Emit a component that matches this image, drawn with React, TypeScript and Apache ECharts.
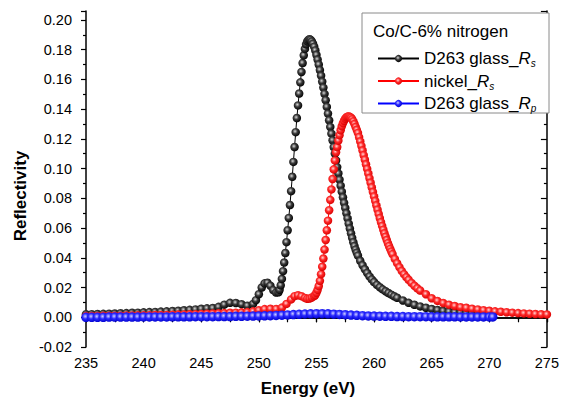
import React, { useEffect, useRef } from "react";
import * as echarts from "echarts";

// ---------- data ----------
const xTicks = [235, 240, 245, 250, 255, 260, 265, 270, 275];
const yTicks = [-0.02, 0.0, 0.02, 0.04, 0.06, 0.08, 0.1, 0.12, 0.14, 0.16, 0.18, 0.2];

const legendTitle = "Co/C-6% nitrogen";
const xTitle = "Energy (eV)";
const yTitle = "Reflectivity";
const seriesNames = ["D263 glass_Rs", "nickel_Rs", "D263 glass_Rp"];

// D263 glass, s-polarisation (black)
const blackE = [
  235, 235.5, 236, 236.5, 237, 237.5, 238, 238.5, 239, 239.5, 240, 240.5, 241, 241.5, 242, 242.5, 243, 243.5, 244, 244.5,
  245, 245.5, 246, 246.5, 247, 247.5, 248, 248.5, 249, 249.5, 249.75, 250, 250.25, 250.5, 250.75, 251, 251.25, 251.5,
  251.7, 251.8, 251.9, 252.0, 252.1, 252.2, 252.3, 252.4, 252.5, 252.6, 252.7, 252.8, 252.9, 253.0, 253.1, 253.2, 253.3,
  253.4, 253.5, 253.6, 253.7, 253.8, 253.9, 254.0, 254.1, 254.2, 254.3, 254.4, 254.5, 254.6, 254.7, 254.8, 254.9, 255.0,
  255.1, 255.2, 255.3, 255.4, 255.5, 255.6, 255.7, 255.8, 255.9, 256.0, 256.1, 256.2, 256.3, 256.4, 256.5, 256.6, 256.7,
  256.8, 256.9, 257.0, 257.1, 257.2, 257.3, 257.4, 257.5, 257.6, 257.7, 257.8, 257.9, 258.0, 258.1, 258.2, 258.3, 258.4,
  258.5, 258.6, 258.8, 259.0, 259.2, 259.4, 259.6, 259.8, 260.0, 260.25, 260.5, 260.75, 261.0, 261.25, 261.5, 261.75,
  262.0, 262.5, 263.0, 263.5, 264.0, 264.5, 265.0, 265.5, 266.0, 266.5, 267.0, 267.5, 268.0, 268.5, 269.0, 269.5, 270.0,
];
const blackR = [
  0.002, 0.0021, 0.0022, 0.0023, 0.0024, 0.0025, 0.0027, 0.0028, 0.003, 0.0031, 0.0033, 0.0035, 0.0036, 0.0038, 0.004,
  0.0042, 0.0044, 0.0047, 0.005, 0.0053, 0.0057, 0.006, 0.0062, 0.007, 0.0085, 0.0097, 0.0096, 0.0088, 0.0078, 0.009,
  0.0115, 0.0155, 0.02, 0.0228, 0.0232, 0.0212, 0.0183, 0.0166, 0.0168, 0.0185, 0.0215, 0.0258, 0.031, 0.0368, 0.0432,
  0.0505, 0.0585, 0.0668, 0.0755, 0.0848, 0.0945, 0.1045, 0.1145, 0.1245, 0.134, 0.1425, 0.1505, 0.158, 0.165, 0.171,
  0.1762, 0.1805, 0.1836, 0.1856, 0.1866, 0.187, 0.1866, 0.1855, 0.184, 0.182, 0.1795, 0.1765, 0.1733, 0.17, 0.1663,
  0.1625, 0.1585, 0.1545, 0.1503, 0.146, 0.1415, 0.137, 0.1325, 0.128, 0.1235, 0.119, 0.1145, 0.11, 0.1055, 0.101,
  0.0967, 0.0925, 0.0885, 0.0845, 0.0807, 0.077, 0.0735, 0.07, 0.0665, 0.063, 0.0597, 0.0565, 0.0534, 0.0505, 0.0479,
  0.0455, 0.0434, 0.0415, 0.038, 0.035, 0.0323, 0.0298, 0.0275, 0.0255, 0.0237, 0.0218, 0.0202, 0.0188, 0.0175, 0.0163,
  0.0152, 0.0141, 0.0131, 0.0113, 0.0097, 0.0084, 0.0073, 0.0064, 0.0056, 0.0049, 0.0043, 0.0038, 0.0034, 0.0031,
  0.0028, 0.0026, 0.0024, 0.0022, 0.0021,
];

// nickel, s-polarisation (red)
const redE = [
  235, 235.5, 236, 236.5, 237, 237.5, 238, 238.5, 239, 239.5, 240, 240.5, 241, 241.5, 242, 242.5, 243, 243.5, 244, 244.5,
  245, 245.5, 246, 246.5, 247, 247.5, 248, 248.5, 249, 249.5, 250, 250.5, 251, 251.5, 252, 252.4, 252.8, 253.1, 253.4,
  253.7, 254.0, 254.2, 254.4, 254.6, 254.8, 254.9, 255.0, 255.1, 255.2, 255.3, 255.4, 255.5, 255.6, 255.7, 255.8, 255.9,
  256.0, 256.1, 256.2, 256.3, 256.4, 256.5, 256.6, 256.7, 256.8, 256.9, 257.0, 257.1, 257.2, 257.3, 257.4, 257.5, 257.6,
  257.7, 257.8, 257.9, 258.0, 258.1, 258.2, 258.3, 258.4, 258.5, 258.6, 258.7, 258.8, 258.9, 259.0, 259.1, 259.2, 259.3,
  259.4, 259.5, 259.6, 259.7, 259.8, 259.9, 260.0, 260.1, 260.2, 260.3, 260.4, 260.5, 260.6, 260.7, 260.8, 260.9, 261.0,
  261.1, 261.2, 261.3, 261.4, 261.5, 261.6, 261.8, 262.0, 262.2, 262.4, 262.6, 262.8, 263.0, 263.25, 263.5, 263.75, 264.0,
  264.5, 265.0, 265.5, 266.0, 266.5, 267.0, 267.5, 268.0, 268.5, 269.0, 269.5, 270.0, 270.5, 271.0, 271.5, 272.0, 272.5,
  273.0, 273.5, 274.0, 274.5, 275.0,
];
const redR = [
  0.0008, 0.0009, 0.0009, 0.001, 0.001, 0.0011, 0.0011, 0.0012, 0.0012, 0.0013, 0.0013, 0.0014, 0.0015, 0.0015, 0.0016,
  0.0017, 0.0018, 0.0019, 0.002, 0.0021, 0.0022, 0.0024, 0.0025, 0.0027, 0.0028, 0.003, 0.0031, 0.0033, 0.0035, 0.004,
  0.0048, 0.0055, 0.0057, 0.0056, 0.0065, 0.009, 0.012, 0.0142, 0.0148, 0.0142, 0.013, 0.0124, 0.0126, 0.0133, 0.0143,
  0.015, 0.0165, 0.0185, 0.021, 0.0245, 0.029, 0.034, 0.0395, 0.0455, 0.052, 0.0585, 0.065, 0.072, 0.079, 0.086, 0.093,
  0.0995, 0.1055, 0.111, 0.1145, 0.1188, 0.1225, 0.1258, 0.1285, 0.1306, 0.1322, 0.1336, 0.1345, 0.135, 0.1351, 0.1348,
  0.1342, 0.1332, 0.1318, 0.13, 0.128, 0.1261, 0.124, 0.1212, 0.1183, 0.1153, 0.1122, 0.1091, 0.106, 0.1029, 0.0998,
  0.0967, 0.0936, 0.0905, 0.0874, 0.0843, 0.0813, 0.0783, 0.0753, 0.0724, 0.0695, 0.0667, 0.064, 0.0614, 0.0589, 0.0565,
  0.0542, 0.052, 0.0499, 0.0479, 0.046, 0.0442, 0.0425, 0.0393, 0.0364, 0.0337, 0.0312, 0.029, 0.027, 0.0252, 0.0231,
  0.0212, 0.0195, 0.018, 0.0155, 0.0128, 0.011, 0.0096, 0.0085, 0.0076, 0.0068, 0.0064, 0.0058, 0.0053, 0.0048, 0.0044,
  0.004, 0.0037, 0.0034, 0.0031, 0.0028, 0.0026, 0.0024, 0.0022, 0.002, 0.0019,
];

// D263 glass, p-polarisation (blue)
const blueE = [
  235, 235.5, 236, 236.5, 237, 237.5, 238, 238.5, 239, 239.5, 240, 240.5, 241, 241.5, 242, 242.5, 243, 243.5, 244, 244.5,
  245, 245.5, 246, 246.5, 247, 247.5, 248, 248.5, 249, 249.5, 250, 250.5, 251, 251.5, 252, 252.5, 253, 253.5, 254, 254.5,
  255, 255.5, 256, 256.5, 257, 257.5, 258, 258.5, 259, 259.5, 260, 260.5, 261, 261.5, 262, 262.5, 263, 263.5, 264, 264.5,
  265, 265.5, 266, 266.5, 267, 267.5, 268, 268.5, 269, 269.5, 270, 270.3,
];
const blueR = [
  0.0, 0.0, 0.0, 0.0, 0.0001, 0.0001, 0.0001, 0.0001, 0.0001, 0.0001, 0.0002, 0.0002, 0.0002, 0.0002, 0.0002, 0.0003,
  0.0003, 0.0003, 0.0003, 0.0004, 0.0004, 0.0004, 0.0004, 0.0005, 0.0005, 0.0005, 0.0006, 0.0006, 0.0007, 0.0008,
  0.0009, 0.001, 0.0011, 0.0012, 0.0014, 0.0016, 0.0018, 0.002, 0.0022, 0.0023, 0.0024, 0.0024, 0.0023, 0.0021, 0.0019,
  0.0017, 0.0015, 0.0013, 0.0011, 0.0009, 0.0008, 0.0007, 0.0006, 0.0006, 0.0005, 0.0005, 0.0004, 0.0004, 0.0004,
  0.0004, 0.0003, 0.0003, 0.0003, 0.0003, 0.0003, 0.0002, 0.0002, 0.0002, 0.0002, 0.0002, 0.0002, 0.0002,
];

const FONT = "'Liberation Sans', Arial, Helvetica, sans-serif";

function sphere(light: string, mid: string, dark: string) {
  return new echarts.graphic.RadialGradient(0.42, 0.4, 0.62, [
    { offset: 0, color: light },
    { offset: 0.45, color: mid },
    { offset: 1, color: dark },
  ]);
}

const richNames: Record<string, string> = {
  "D263 glass_Rs": "{t|D263 glass_}{i|R}{s|s}",
  "nickel_Rs": "{t|nickel_}{i|R}{s|s}",
  "D263 glass_Rp": "{t|D263 glass_}{i|R}{s|p}",
};

export default function App() {
  const ref = useRef<HTMLDivElement>(null);

  useEffect(() => {
    if (!ref.current) return;
    const chart = echarts.init(ref.current, undefined, { renderer: "svg" });

    const zip = (xs: number[], ys: number[]) => xs.map((x, i) => [x, ys[i]]);
    const styles = [
      { line: "#000000", fill: sphere("#d8d8d8", "#3a3a3a", "#000000"), size: 8.5 },
      { line: "#ff0000", fill: sphere("#ffd6d6", "#ff2a2a", "#d80000"), size: 8.5 },
      { line: "#0000ff", fill: sphere("#d0d0ff", "#2a2aff", "#0000d0"), size: 9.5 },
    ];
    const datas = [zip(blackE, blackR), zip(redE, redR), zip(blueE, blueR)];

    const axisLine = { show: true, lineStyle: { color: "#000", width: 1.5 } };

    chart.setOption({
      animation: false,
      backgroundColor: "#ffffff",
      grid: { left: 86, right: 12, top: 11, bottom: 55, containLabel: false },
      xAxis: [
        {
          type: "value",
          min: xTicks[0],
          max: xTicks[xTicks.length - 1],
          interval: 5,
          position: "bottom",
          axisLine,
          axisTick: { show: true, inside: false, length: 5, lineStyle: { color: "#000", width: 1.2 } },
          minorTick: { show: true, splitNumber: 2, length: 3, lineStyle: { color: "#000", width: 1.2 } },
          axisLabel: { fontFamily: FONT, fontSize: 14.5, color: "#000", margin: 8 },
          splitLine: { show: false },
        },
        {
          type: "value",
          min: xTicks[0],
          max: xTicks[xTicks.length - 1],
          interval: 2.5,
          position: "top",
          axisLine,
          axisTick: { show: true, inside: true, length: 5, lineStyle: { color: "#000", width: 1.2 } },
          axisLabel: { show: false },
          splitLine: { show: false },
        },
      ],
      yAxis: [
        {
          type: "value",
          min: yTicks[0],
          max: 0.206,
          interval: 0.02,
          position: "left",
          axisLine,
          axisTick: { show: true, inside: false, length: 5, lineStyle: { color: "#000", width: 1.2 } },
          minorTick: { show: true, splitNumber: 2, length: 3, lineStyle: { color: "#000", width: 1.2 } },
          axisLabel: {
            fontFamily: FONT,
            fontSize: 14.5,
            color: "#000",
            margin: 14,
            showMaxLabel: false,
            formatter: (v: number) => (Math.abs(v) < 1e-9 ? 0 : v).toFixed(2),
          },
          splitLine: { show: false },
        },
        {
          type: "value",
          min: yTicks[0],
          max: 0.206,
          interval: 0.02,
          position: "right",
          axisLine,
          axisTick: { show: true, inside: true, length: 6, lineStyle: { color: "#000", width: 1.2 } },
          minorTick: { show: true, splitNumber: 2, length: 3, lineStyle: { color: "#000", width: 1.2 } },
          axisLabel: { show: false },
          splitLine: { show: false },
        },
      ],
      legend: {
        show: true,
        orient: "vertical",
        left: 372,
        top: 45,
        itemWidth: 41,
        itemHeight: 9,
        itemGap: 4,
        data: seriesNames,
        formatter: (name: string) => richNames[name] || name,
        textStyle: {
          fontFamily: FONT,
          fontSize: 17,
          color: "#000",
          rich: {
            t: { fontFamily: FONT, fontSize: 17, color: "#000" },
            i: { fontFamily: FONT, fontSize: 17, fontStyle: "italic", color: "#000" },
            s: { fontFamily: FONT, fontSize: 10, fontStyle: "italic", color: "#000", padding: [10, 0, 0, 0] },
          },
        },
        z: 10,
      },
      graphic: [
        {
          type: "rect",
          z: 5,
          shape: { x: 362, y: 13, width: 187, height: 100 },
          style: { fill: "#ffffff", stroke: "#8a8a8a", lineWidth: 1 },
        },
        {
          type: "text",
          z: 11,
          x: 373,
          y: 23,
          style: { text: legendTitle, fontFamily: FONT, fontSize: 17, fill: "#000" },
        },
        {
          type: "text",
          z: 11,
          x: 308,
          y: 388,
          style: {
            text: xTitle,
            fontFamily: FONT,
            fontSize: 17,
            fontWeight: "bold",
            fill: "#000",
            align: "center",
            verticalAlign: "middle",
          },
        },
        {
          type: "text",
          z: 11,
          x: 20,
          y: 196,
          rotation: Math.PI / 2,
          style: {
            text: yTitle,
            fontFamily: FONT,
            fontSize: 17,
            fontWeight: "bold",
            fill: "#000",
            align: "center",
            verticalAlign: "middle",
          },
        },
      ],
      series: seriesNames.map((name, k) => ({
        name,
        type: "line",
        xAxisIndex: 0,
        yAxisIndex: 0,
        data: datas[k],
        symbol: "circle",
        symbolSize: styles[k].size,
        showSymbol: true,
        lineStyle: { color: styles[k].line, width: 1 },
        itemStyle: { color: styles[k].fill, borderWidth: 0 },
        emphasis: { disabled: true },
        z: 2 + k,
      })),
    });

    return () => chart.dispose();
  }, []);

  return (
    <div
      ref={ref}
      style={{ position: "fixed", left: 0, top: 0, width: 562, height: 402, background: "#fff" }}
    />
  );
}
